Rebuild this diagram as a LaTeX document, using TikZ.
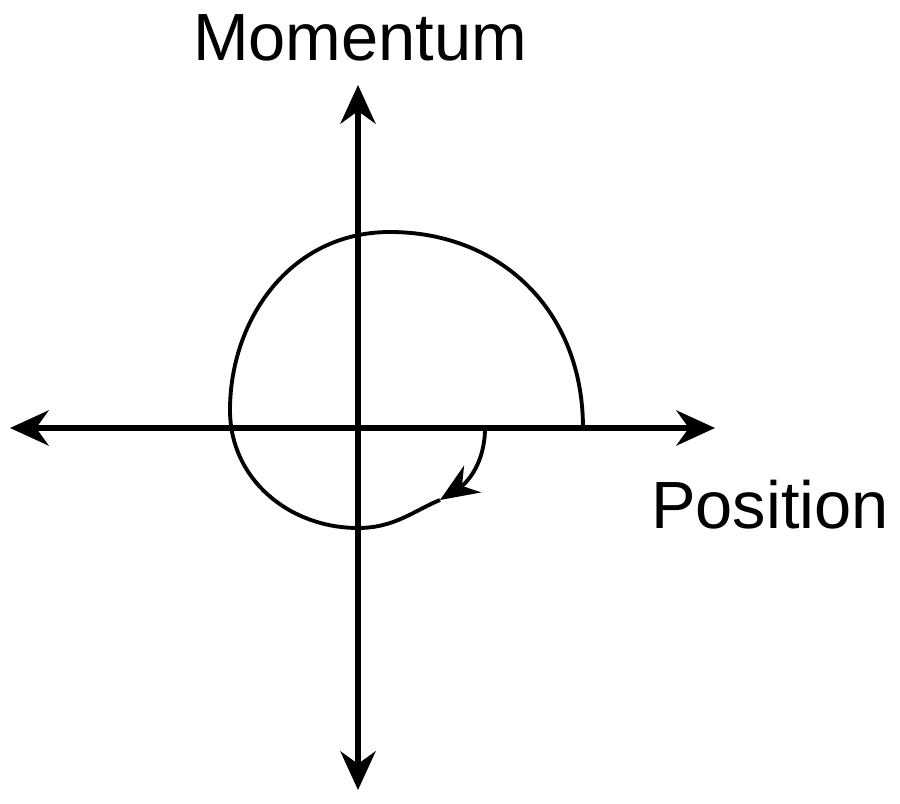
\documentclass[tikz,border=0pt]{standalone}
\usepackage{fontspec}
\setmainfont{Liberation Sans}
\usetikzlibrary{arrows.meta}
\tikzstyle{axis} = [line width=3pt, {Stealth[length=22pt,width=20pt]}-{Stealth[length=22pt,width=20pt]}]
\tikzstyle{orbit} = [line width=2.2pt]
\tikzstyle{label} = [font=\fontsize{38}{40}\selectfont, inner sep=0pt]

\begin{document}
\begin{tikzpicture}[x=0.02cm, y=-0.02cm]
	\useasboundingbox (0,0) rectangle (900,804);

	% Axes ends
	\coordinate (west) at (10,428);
	\coordinate (east) at (715,428);
	\coordinate (north) at (358,85);
	\coordinate (south) at (358,790);

	% Labels
	\node (momentum) [label] at (360,38) {Momentum};
	\node (position) [label] at (770,505) {Position};

	% Axes
	\draw [axis] (west) -- (east);
	\draw [axis] (south) -- (north);

	% Trajectory
	\coordinate (start) at (583,428);
	\coordinate (tip) at (440,500);
	\coordinate (inner) at (485,428);
	\draw [orbit] (start) .. controls (583,310) and (500,232) .. (390,232)
		.. controls (290,232) and (230,320) .. (230,410)
		.. controls (230,480) and (290,528) .. (358,528)
		.. controls (395,528) and (415,510) .. (tip);
	\draw [orbit, -{Stealth[length=22pt,width=18pt]}] (inner) .. controls (485,462) and (468,482) .. (tip);
\end{tikzpicture}
\end{document}
